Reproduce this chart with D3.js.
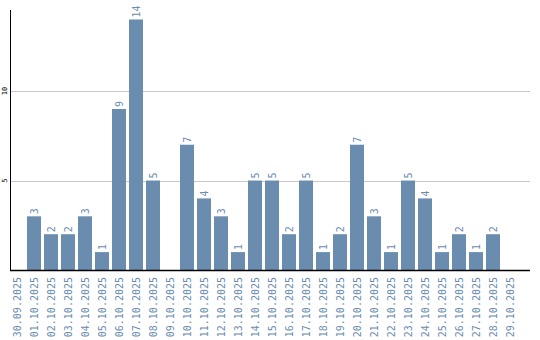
<!DOCTYPE html>
<html><head><meta charset="utf-8">
<script src="https://cdn.jsdelivr.net/npm/d3@7"></script>
<style>body{margin:0;background:#fff}svg{display:block}</style>
</head><body>
<svg id="c" width="540" height="340"></svg>
<script>
const categories = ["30.09.2025","01.10.2025","02.10.2025","03.10.2025","04.10.2025","05.10.2025","06.10.2025","07.10.2025","08.10.2025","09.10.2025","10.10.2025","11.10.2025","12.10.2025","13.10.2025","14.10.2025","15.10.2025","16.10.2025","17.10.2025","18.10.2025","19.10.2025","20.10.2025","21.10.2025","22.10.2025","23.10.2025","24.10.2025","25.10.2025","26.10.2025","27.10.2025","28.10.2025","29.10.2025"];
const values = [0,3,2,2,3,1,9,14,5,0,7,4,3,1,5,5,2,5,1,2,7,3,1,5,4,1,2,1,2,0];
const yTicks = [5,10];

const svg = d3.select("#c");
const color = "#6a8caf";
const x = d3.scaleBand().domain(categories).range([10, 517]).paddingInner(3/17).paddingOuter(0);
const y = d3.scaleLinear().domain([0, 14.53]).range([270, 10]);

// gridlines
svg.append("g").selectAll("line").data(yTicks).join("line")
  .attr("x1", 10.5).attr("x2", 530)
  .attr("y1", d => Math.round(y(d)) + 0.5).attr("y2", d => Math.round(y(d)) + 0.5)
  .attr("stroke", "#c8c8c8").attr("stroke-width", 1);

// bars
svg.append("g").selectAll("rect").data(values.map((v,i)=>({c:categories[i],v}))).join("rect")
  .attr("x", d => x(d.c)).attr("width", x.bandwidth())
  .attr("y", d => y(d.v)).attr("height", d => y(0) - y(d.v))
  .attr("fill", color);

// value labels
svg.append("g").selectAll("text").data(values.map((v,i)=>({c:categories[i],v})).filter(d=>d.v>0)).join("text")
  .attr("transform", d => `translate(${x(d.c)+x.bandwidth()/2},${y(d.v)-2}) rotate(-90)`)
  .attr("dy", "0.35em")
  .attr("font-family", "DejaVu Sans Mono").attr("font-size", 10)
  .attr("fill", color).text(d => d.v);

// axes lines
svg.append("line").attr("x1",10.5).attr("x2",10.5).attr("y1",10).attr("y2",270).attr("stroke","#000");
svg.append("line").attr("x1",10).attr("x2",530).attr("y1",270.5).attr("y2",270.5).attr("stroke","#000").attr("stroke-width",1.3);

// y tick labels
svg.append("g").selectAll("text").data(yTicks).join("text")
  .attr("transform", d => `translate(5,${y(d)}) rotate(-90)`)
  .attr("text-anchor","middle").attr("dy","0.35em")
  .attr("font-family","DejaVu Sans Mono").attr("font-size",7)
  .attr("fill","#000").text(d => d);

// x labels
svg.append("g").selectAll("text").data(categories).join("text")
  .attr("transform", d => `translate(${x(d)+x.bandwidth()/2},277) rotate(-90)`)
  .attr("text-anchor","end").attr("dy","0.35em")
  .attr("font-family","DejaVu Sans Mono").attr("font-size",10)
  .attr("fill", color).text(d => d);
</script>
</body></html>
